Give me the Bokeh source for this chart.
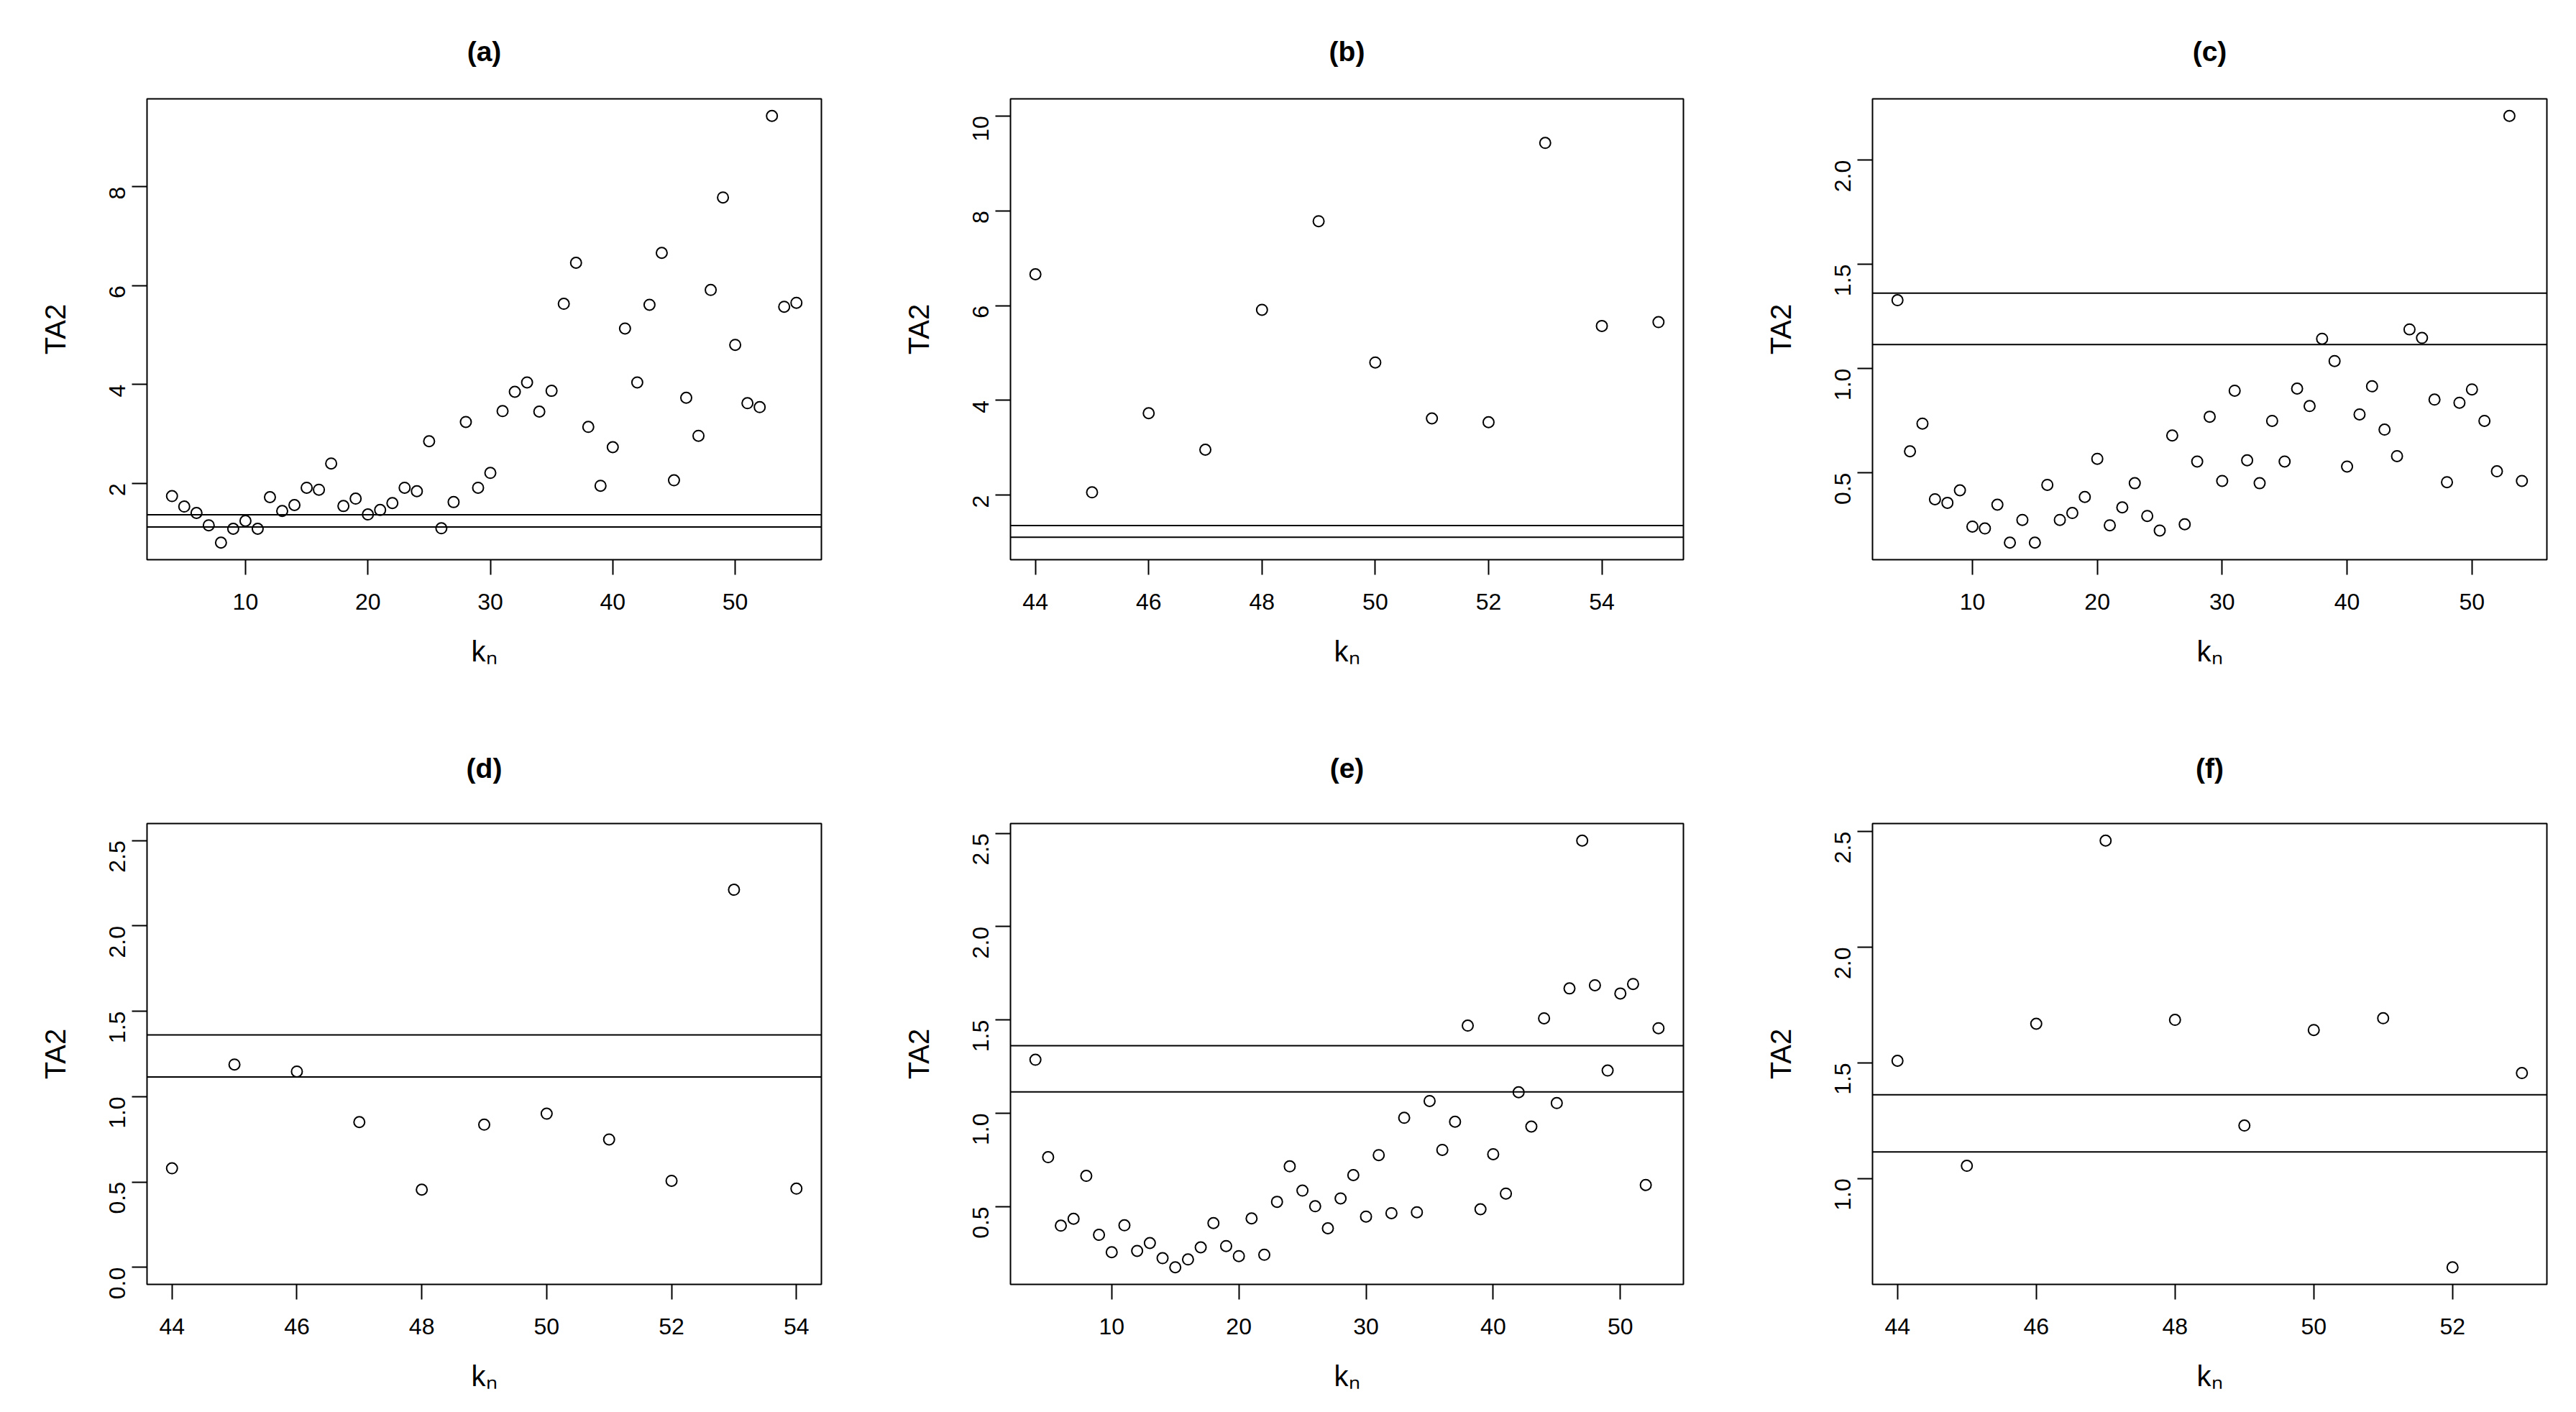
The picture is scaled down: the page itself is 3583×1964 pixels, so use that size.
import math
from bokeh.plotting import figure
from bokeh.models import Range1d, FixedTicker, Span, PrintfTickFormatter
from bokeh.layouts import column, row
from bokeh.embed import file_html
from bokeh.resources import INLINE

# ---------------- data ----------------
k_a = list(range(4, 56))
ta2_a = [1.74, 1.53, 1.40, 1.15, 0.80, 1.08, 1.24, 1.08, 1.72, 1.44,
         1.56, 1.91, 1.87, 2.40, 1.54, 1.69, 1.37, 1.46, 1.60, 1.91,
         1.84, 2.85, 1.09, 1.62, 3.24, 1.91, 2.21, 3.46, 3.85, 4.04,
         3.45, 3.87, 5.63, 6.46, 3.14, 1.95, 2.73, 5.13, 4.04, 5.61,
         6.66, 2.06, 3.73, 2.96, 5.91, 7.78, 4.80, 3.62, 3.54, 9.43,
         5.57, 5.65]

k_c = list(range(4, 55))
ta2_c = [1.328, 0.603, 0.736, 0.373, 0.356, 0.416, 0.242, 0.233, 0.347, 0.165,
         0.274, 0.165, 0.442, 0.274, 0.307, 0.384, 0.567, 0.248, 0.334, 0.450,
         0.293, 0.223, 0.679, 0.253, 0.554, 0.769, 0.461, 0.894, 0.560, 0.450,
         0.749, 0.554, 0.904, 0.820, 1.143, 1.036, 0.530, 0.780, 0.915, 0.707,
         0.580, 1.188, 1.147, 0.851, 0.455, 0.836, 0.900, 0.749, 0.507, 2.212,
         0.461]

k_e = list(range(4, 54))
ta2_e = [1.287, 0.765, 0.398, 0.435, 0.665, 0.349, 0.256, 0.400, 0.263, 0.305,
         0.224, 0.175, 0.217, 0.282, 0.412, 0.289, 0.235, 0.437, 0.242, 0.526,
         0.716, 0.586, 0.502, 0.384, 0.544, 0.669, 0.447, 0.776, 0.465, 0.976,
         0.470, 1.066, 0.804, 0.955, 1.470, 0.486, 0.781, 0.570, 1.113, 0.929,
         1.509, 1.055, 1.669, 2.461, 1.686, 1.229, 1.642, 1.693, 0.616, 1.456]

thresholds = [1.115, 1.362]

# panels (b), (d), (f) show k_n >= 44 of (a), (c), (e)
k_min_zoom = 44

titles = ["(a)", "(b)", "(c)", "(d)", "(e)", "(f)"]
x_ticks = [[10, 20, 30, 40, 50], [44, 46, 48, 50, 52, 54], [10, 20, 30, 40, 50],
           [44, 46, 48, 50, 52, 54], [10, 20, 30, 40, 50], [44, 46, 48, 50, 52]]
y_ticks = [[2, 4, 6, 8], [2, 4, 6, 8, 10], [0.5, 1.0, 1.5, 2.0],
           [0.0, 0.5, 1.0, 1.5, 2.0, 2.5], [0.5, 1.0, 1.5, 2.0, 2.5], [1.0, 1.5, 2.0, 2.5]]
y_limits = [None, (1, 10), None, (0, 2.5), None, None]
x_label = "k\u2099"
y_label = "TA2"

FONT = "Liberation Sans"


def subset(ks, vs):
    pairs = [(k, v) for k, v in zip(ks, vs) if k >= k_min_zoom]
    return [p[0] for p in pairs], [p[1] for p in pairs]


k_b, ta2_b = subset(k_a, ta2_a)
k_d, ta2_d = subset(k_c, ta2_c)
k_f, ta2_f = subset(k_e, ta2_e)

series = [(k_a, ta2_a), (k_b, ta2_b), (k_c, ta2_c), (k_d, ta2_d), (k_e, ta2_e), (k_f, ta2_f)]


def r_range(lo, hi):
    d = (hi - lo) * 0.04
    return Range1d(lo - d, hi + d)


# layout geometry (px)
col_geom = [(204, 938, 52), (211, 936, 47), (216, 938, 33)]
row_geom = [(137, 204, 90), (163, 170, 112)]   # top border, bottom border, title standoff
FRAME_H = 641

figs = []
for i in range(6):
    r, c = divmod(i, 3)
    left, fw, right = col_geom[c]
    top, bottom, t_standoff = row_geom[r]
    xs, ys = series[i]
    xr = r_range(min(xs), max(xs))
    if y_limits[i] is None:
        yr = r_range(min(ys), max(ys))
    else:
        yr = r_range(*y_limits[i])
    p = figure(frame_width=fw, frame_height=FRAME_H, x_range=xr, y_range=yr,
               output_backend="svg", toolbar_location=None,
               min_border_left=left, min_border_right=right,
               min_border_top=top, min_border_bottom=bottom,
               background_fill_color="white", border_fill_color="white")
    p.title.text = titles[i]
    p.title.align = "center"
    p.title.text_font = FONT
    p.title.text_font_size = "39px"
    p.title.text_font_style = "bold"
    p.title.text_color = "black"
    p.title.standoff = t_standoff
    p.outline_line_color = "black"
    p.outline_line_width = 2
    p.outline_line_alpha = 1.0
    p.xgrid.visible = False
    p.ygrid.visible = False

    for ax in (p.xaxis[0], p.yaxis[0]):
        ax.axis_line_color = None
        ax.major_tick_out = 21
        ax.major_tick_in = 0
        ax.minor_tick_out = 0
        ax.minor_tick_in = 0
        ax.major_tick_line_width = 2
        ax.major_tick_line_color = "black"
        ax.major_label_text_font = FONT
        ax.major_label_text_font_size = "32px"
        ax.major_label_text_color = "black"
        ax.axis_label_text_font = FONT
        ax.axis_label_text_font_size = "40px"
        ax.axis_label_text_font_style = "normal"
        ax.axis_label_text_color = "black"

    p.xaxis.ticker = FixedTicker(ticks=x_ticks[i])
    p.xaxis.major_label_standoff = 26
    p.xaxis.axis_label = x_label
    p.xaxis.axis_label_standoff = 33
    p.yaxis.ticker = FixedTicker(ticks=y_ticks[i])
    p.yaxis.major_label_orientation = math.pi / 2
    p.yaxis.major_label_standoff = 20
    if i in (0, 1):
        p.yaxis.formatter = PrintfTickFormatter(format="%d")
    else:
        p.yaxis.formatter = PrintfTickFormatter(format="%.1f")
    p.yaxis.axis_label = y_label
    p.yaxis.axis_label_standoff = 40

    for t in thresholds:
        p.add_layout(Span(location=t, dimension="width", line_color="black", line_width=2))

    p.scatter(xs, ys, marker="circle", size=15, fill_color=None,
              line_color="black", line_width=2)
    figs.append(p)

layout = column(row(figs[0], figs[1], figs[2]), row(figs[3], figs[4], figs[5]))

with open("out.html", "w") as f:
    f.write(file_html(layout, INLINE))
